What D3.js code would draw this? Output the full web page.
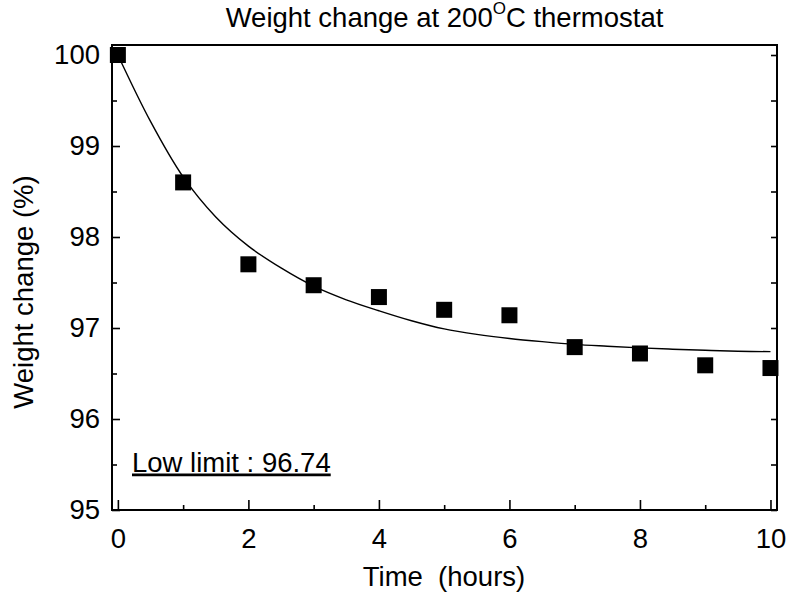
<!DOCTYPE html>
<html>
<head>
<meta charset="utf-8">
<script src="https://cdn.jsdelivr.net/npm/d3@7"></script>
<style>
  body { margin: 0; background: #fff; }
  svg text { font-family: "Liberation Sans", Arial, sans-serif; fill: #000; }
</style>
</head>
<body>
<div id="chart"></div>
<script>
// measured points
var hours = [0, 1, 2, 3, 4, 5, 6, 7, 8, 9, 10];
var weight = [100.0, 98.60, 97.70, 97.47, 97.34, 97.20, 97.14, 96.79, 96.72, 96.59, 96.56];

// fitted decay curve
var fitHours = [0, 0.5, 1, 1.5, 2, 2.5, 3, 3.5, 4, 4.5, 5, 5.5, 6, 6.5, 7, 7.5, 8, 8.5, 9, 9.5, 10];
var fitWeight = [100.0, 99.27, 98.66, 98.22, 97.90, 97.66, 97.46, 97.31, 97.19, 97.08, 96.99,
                 96.93, 96.885, 96.85, 96.82, 96.80, 96.782, 96.767, 96.755, 96.745, 96.74];

var xMajor = [0, 2, 4, 6, 8, 10];
var xMinor = [1, 3, 5, 7, 9];
var yMajor = [95, 96, 97, 98, 99, 100];
var yMinor = [95.5, 96.5, 97.5, 98.5, 99.5];

var lowLimit = "Low limit : 96.74";

(function () {
    var W = 792, H = 601;
    var margin = {top: 45, right: 15, bottom: 91, left: 112},
        width = W - margin.left - margin.right,
        height = H - margin.top - margin.bottom;

    var svg = d3.select("#chart").append("svg")
        .attr("width", W)
        .attr("height", H);

    var g = svg.append("g")
        .attr("transform", "translate(" + margin.left + "," + margin.top + ")");

    var x = d3.scaleLinear().domain([-0.09, 10.1]).range([0, width]),
        y = d3.scaleLinear().domain([95, 100.11]).range([height, 0]);

    // ticks (inside)
    var bottom = g.append("g").attr("transform", "translate(0," + height + ")");
    bottom.call(d3.axisBottom(x).tickValues(xMajor).tickSizeInner(-10).tickSizeOuter(0).tickPadding(18)
        .tickFormat(d3.format("d")));
    bottom.append("g").call(d3.axisBottom(x).tickValues(xMinor).tickSizeInner(-5).tickSizeOuter(0).tickFormat(""));

    var left = g.append("g");
    left.call(d3.axisLeft(y).tickValues(yMajor).tickSizeInner(-8).tickSizeOuter(0).tickPadding(12)
        .tickFormat(d3.format("d")));
    left.append("g").call(d3.axisLeft(y).tickValues(yMinor).tickSizeInner(-5).tickSizeOuter(0).tickFormat(""));

    var right = g.append("g").attr("transform", "translate(" + width + ",0)");
    right.call(d3.axisRight(y).tickValues(yMajor.concat(yMinor)).tickSizeInner(-6).tickSizeOuter(0).tickFormat(""));

    g.selectAll(".domain").remove();
    g.selectAll(".tick line").attr("stroke", "#000").attr("stroke-width", 1.6);
    g.selectAll(".tick text")
        .style("font-family", "'Liberation Sans', Arial, sans-serif")
        .style("font-size", "27.5px")
        .attr("fill", "#000");

    // frame
    g.append("rect")
        .attr("width", width)
        .attr("height", height)
        .attr("fill", "none")
        .attr("stroke", "#000")
        .attr("stroke-width", 2);

    // fit line
    var line = d3.line()
        .curve(d3.curveCatmullRom)
        .x(function (d, i) { return x(fitHours[i]); })
        .y(function (d) { return y(d); });

    g.append("path")
        .attr("d", line(fitWeight))
        .attr("fill", "none")
        .attr("stroke", "#000")
        .attr("stroke-width", 1.4);

    // squares
    var s = 16;
    g.selectAll(".pt")
        .data(weight)
        .enter().append("rect")
        .attr("class", "pt")
        .attr("x", function (d, i) { return x(hours[i]) - s / 2; })
        .attr("y", function (d) { return y(d) - s / 2; })
        .attr("width", s)
        .attr("height", s)
        .attr("fill", "#000");

    // low limit note
    g.append("text")
        .attr("x", 20)
        .attr("y", 426.5)
        .style("font-size", "27.5px")
        .style("text-decoration", "underline")
        .text(lowLimit);

    // title
    var title = svg.append("text")
        .attr("x", margin.left + width / 2)
        .attr("y", 27)
        .attr("text-anchor", "middle")
        .style("font-size", "27.5px");
    title.append("tspan").text("Weight change at 200");
    title.append("tspan").attr("dy", -13).style("font-size", "17px").text("O");
    title.append("tspan").attr("dy", 13).text("C thermostat");

    // axis titles
    svg.append("text")
        .attr("x", 444)
        .attr("y", 586)
        .attr("text-anchor", "middle")
        .style("font-size", "27.5px")
        .text("Time\u00a0\u00a0(hours)");

    svg.append("text")
        .attr("transform", "translate(33,292) rotate(-90)")
        .attr("text-anchor", "middle")
        .style("font-size", "27.5px")
        .text("Weight change (%)");
})();
</script>
</body>
</html>
